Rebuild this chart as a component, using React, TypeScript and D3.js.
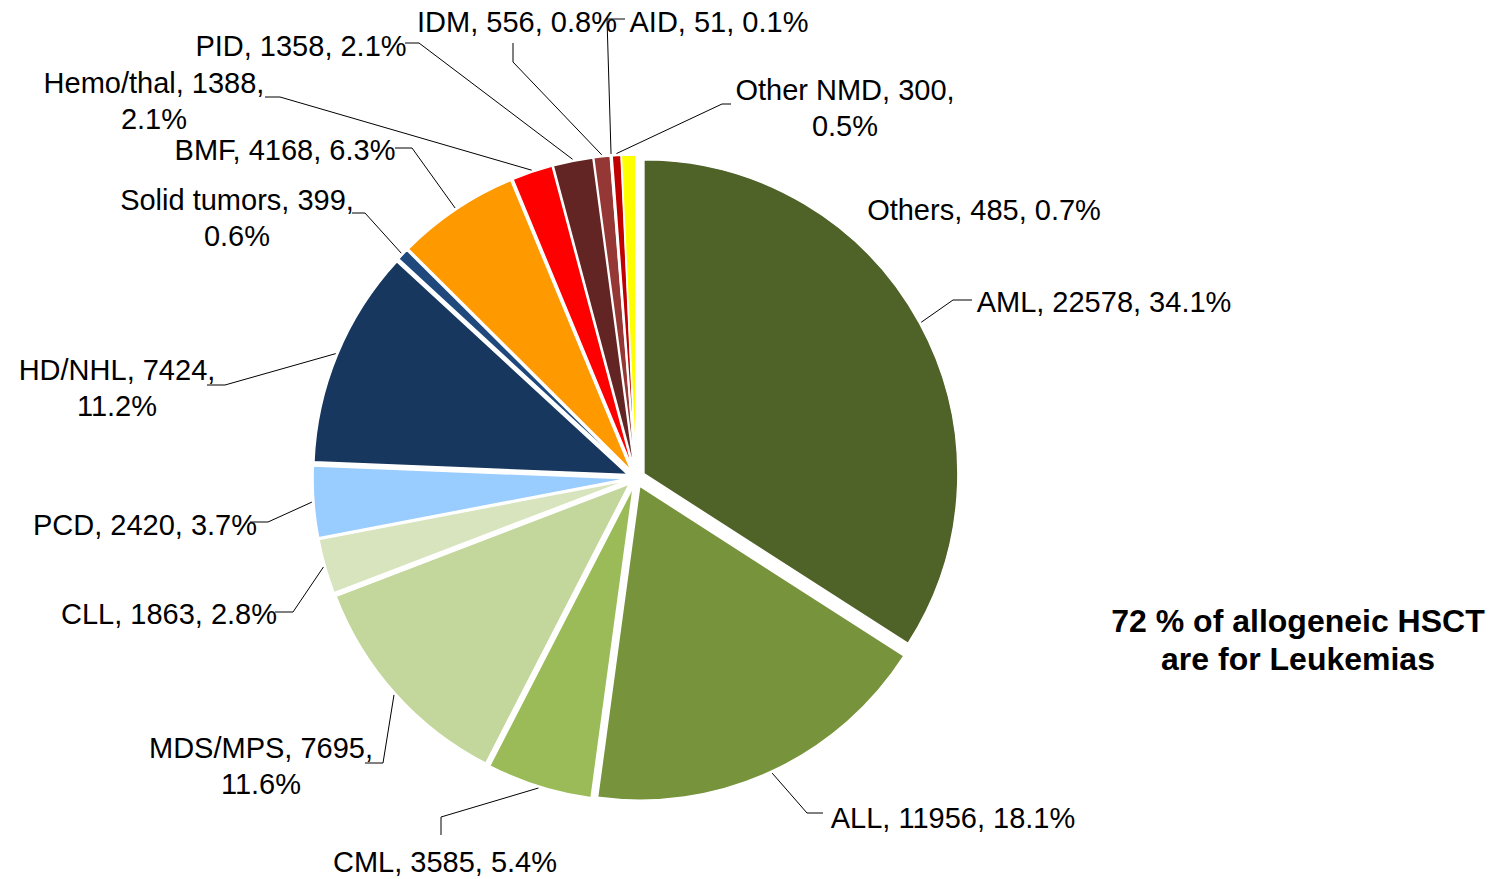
import React from "react";
import * as d3 from "d3";

const categories = ["AML", "ALL", "CML", "MDS/MPS", "CLL", "PCD", "HD/NHL", "Solid tumors", "BMF", "Hemo/thal", "PID", "IDM", "AID", "Other NMD", "Others"];
const counts = [22578, 11956, 3585, 7695, 1863, 2420, 7424, 399, 4168, 1388, 1358, 556, 51, 300, 485];
const percents = ["34.1%", "18.1%", "5.4%", "11.6%", "2.8%", "3.7%", "11.2%", "0.6%", "6.3%", "2.1%", "2.1%", "0.8%", "0.1%", "0.5%", "0.7%"];
const colors = ["#4F6228", "#77933C", "#9BBB59", "#C3D69B", "#D7E4BD", "#99CCFF", "#17375E", "#1F497D", "#FF9900", "#FF0000", "#632523", "#953735", "#D99694", "#C00000", "#FFFF00"];
const annotation = ["72 % of allogeneic HSCT", "are for Leukemias"];

// label layout: text center x, first baseline y, whether wrapped, leader elbow & end (null = no leader)
type Lay = { x: number; y: number; wrap: boolean; leader: [number, number][] | null };
const layout: Lay[] = [
  { x: 1104, y: 312, wrap: false, leader: [[953, 300], [972, 300]] },
  { x: 953, y: 828, wrap: false, leader: [[807, 813], [823, 813]] },
  { x: 445, y: 872, wrap: false, leader: [[441, 817], [441, 835]] },
  { x: 261, y: 758, wrap: true, leader: [[383, 763], [365, 763]] },
  { x: 169, y: 624, wrap: false, leader: [[293, 612], [275, 612]] },
  { x: 145, y: 535, wrap: false, leader: [[268, 522], [250, 522]] },
  { x: 117, y: 380, wrap: true, leader: [[225, 385], [207, 385]] },
  { x: 237, y: 210, wrap: true, leader: [[365, 213], [352, 213]] },
  { x: 285, y: 160, wrap: false, leader: [[412, 148], [395, 148]] },
  { x: 154, y: 93, wrap: true, leader: [[280, 97], [265, 97]] },
  { x: 301, y: 56, wrap: false, leader: [[419, 43], [405, 43]] },
  { x: 517, y: 32, wrap: false, leader: [[513, 62], [513, 43]] },
  { x: 719, y: 32, wrap: false, leader: [[607, 19], [625, 19]] },
  { x: 845, y: 100, wrap: true, leader: [[722, 104], [731, 104]] },
  { x: 984, y: 220, wrap: false, leader: null },
];

const W = 1497, H = 879;
const CX = 636, CY = 478, R = 314, EXPLODE = 9;
const FONT = "'Liberation Sans', Arial, sans-serif";

export default function App() {
  const data = categories.map((c, i) => ({ c, v: counts[i], p: percents[i], i }));
  const pie = d3.pie<any>().sort(null).value((d) => d.v).startAngle(0).endAngle(2 * Math.PI);
  const arcs = pie(data);
  const arc = d3.arc<any>().innerRadius(0).outerRadius(R);
  const dir = (a: number) => [Math.sin(a), -Math.cos(a)];

  return (
    <svg width={W} height={H} style={{ position: "absolute", left: 0, top: 0, background: "#fff" }} fontFamily={FONT}>
      <g transform={`translate(${CX},${CY})`}>
        {arcs.map((a, i) => {
          const mid = (a.startAngle + a.endAngle) / 2;
          const [dx, dy] = dir(mid);
          return (
            <path key={i} d={arc(a) as string} fill={colors[i]} stroke="#fff" strokeWidth={1.5}
              transform={`translate(${dx * EXPLODE},${dy * EXPLODE})`} />
          );
        })}
      </g>
      {arcs.map((a, i) => {
        const L = layout[i];
        if (!L.leader) return null;
        const mid = (a.startAngle + a.endAngle) / 2;
        const [dx, dy] = dir(mid);
        const sx = CX + dx * (EXPLODE + R + 2);
        const sy = CY + dy * (EXPLODE + R + 2);
        const pts = [[sx, sy], ...L.leader];
        return <polyline key={"l" + i} points={pts.map((p) => p.join(",")).join(" ")} fill="none" stroke="#000" strokeWidth={1} />;
      })}
      {arcs.map((a, i) => {
        const L = layout[i];
        const d = data[i];
        const full = `${d.c}, ${d.v}, ${d.p}`;
        return (
          <text key={"t" + i} x={L.x} y={L.y} textAnchor="middle" fontSize={29} fill="#000">
            {L.wrap ? (
              <>
                <tspan x={L.x}>{`${d.c}, ${d.v},`}</tspan>
                <tspan x={L.x} dy={36}>{d.p}</tspan>
              </>
            ) : full}
          </text>
        );
      })}
      <text x={1298} y={632} textAnchor="middle" fontSize={32} fontWeight="bold" fill="#000">
        <tspan x={1298}>{annotation[0]}</tspan>
        <tspan x={1298} dy={38}>{annotation[1]}</tspan>
      </text>
    </svg>
  );
}
